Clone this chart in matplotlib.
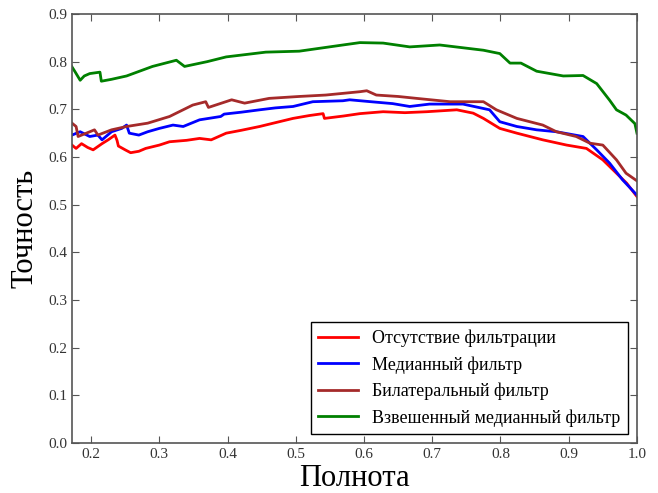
import matplotlib
matplotlib.use("Agg")
import matplotlib.pyplot as plt

plt.rcParams['font.family'] = ['Liberation Serif', 'DejaVu Serif']

x_none = [0.172, 0.178, 0.186, 0.195, 0.203, 0.210, 0.216, 0.225, 0.235, 0.238, 0.240, 0.250, 0.258, 0.270, 0.280, 0.300, 0.315, 0.340, 0.359, 0.376, 0.398, 0.420, 0.447, 0.470, 0.496, 0.520, 0.540, 0.542, 0.570, 0.594, 0.628, 0.660, 0.692, 0.736, 0.760, 0.775, 0.799, 0.824, 0.862, 0.897, 0.926, 0.950, 0.970, 0.985, 1.0]
y_none = [0.625, 0.618, 0.628, 0.620, 0.615, 0.622, 0.628, 0.636, 0.646, 0.635, 0.623, 0.615, 0.609, 0.612, 0.618, 0.625, 0.632, 0.635, 0.639, 0.636, 0.650, 0.656, 0.664, 0.672, 0.681, 0.687, 0.691, 0.681, 0.686, 0.691, 0.695, 0.693, 0.695, 0.699, 0.692, 0.681, 0.660, 0.650, 0.636, 0.625, 0.618, 0.594, 0.566, 0.545, 0.517]

x_med = [0.172, 0.184, 0.198, 0.210, 0.216, 0.230, 0.245, 0.252, 0.256, 0.270, 0.283, 0.300, 0.320, 0.335, 0.359, 0.390, 0.395, 0.420, 0.447, 0.470, 0.496, 0.525, 0.569, 0.579, 0.610, 0.642, 0.667, 0.696, 0.745, 0.784, 0.799, 0.824, 0.853, 0.882, 0.921, 0.941, 0.960, 0.979, 1.0]
y_med = [0.646, 0.653, 0.643, 0.646, 0.636, 0.653, 0.660, 0.667, 0.650, 0.646, 0.653, 0.660, 0.667, 0.664, 0.678, 0.685, 0.690, 0.694, 0.699, 0.703, 0.706, 0.716, 0.718, 0.720, 0.716, 0.712, 0.706, 0.711, 0.711, 0.699, 0.674, 0.664, 0.657, 0.653, 0.643, 0.615, 0.587, 0.552, 0.520]

x_bil = [0.172, 0.178, 0.181, 0.193, 0.205, 0.210, 0.230, 0.252, 0.283, 0.315, 0.349, 0.368, 0.372, 0.406, 0.425, 0.461, 0.505, 0.544, 0.594, 0.604, 0.618, 0.650, 0.677, 0.726, 0.775, 0.794, 0.824, 0.862, 0.882, 0.911, 0.931, 0.950, 0.970, 0.984, 1.0]
y_bil = [0.671, 0.664, 0.643, 0.650, 0.657, 0.646, 0.657, 0.664, 0.671, 0.685, 0.709, 0.716, 0.704, 0.720, 0.713, 0.723, 0.727, 0.730, 0.737, 0.739, 0.730, 0.727, 0.723, 0.716, 0.716, 0.699, 0.681, 0.667, 0.653, 0.643, 0.629, 0.625, 0.594, 0.566, 0.550]

x_wmed = [0.172, 0.176, 0.184, 0.190, 0.198, 0.213, 0.215, 0.230, 0.252, 0.290, 0.325, 0.337, 0.370, 0.398, 0.456, 0.505, 0.569, 0.594, 0.628, 0.667, 0.711, 0.775, 0.799, 0.814, 0.830, 0.853, 0.892, 0.921, 0.941, 0.960, 0.970, 0.984, 0.997, 1.0]
y_wmed = [0.789, 0.780, 0.761, 0.770, 0.775, 0.778, 0.759, 0.763, 0.770, 0.790, 0.803, 0.790, 0.800, 0.810, 0.820, 0.822, 0.835, 0.840, 0.839, 0.831, 0.835, 0.824, 0.817, 0.797, 0.797, 0.780, 0.770, 0.771, 0.754, 0.719, 0.699, 0.688, 0.670, 0.650]

labels = ['Отсутствие фильтрации', 'Медианный фильтр', 'Билатеральный фильтр', 'Взвешенный медианный фильтр']
colors = ['#ff0000', '#0000ff', '#a52a2a', '#008000']

fig = plt.figure(figsize=(6.58, 4.93), dpi=100)
ax = fig.add_axes([0.1094, 0.1014, 0.8586, 0.8702])
for xs, ys, lab, c in zip([x_none, x_med, x_bil, x_wmed], [y_none, y_med, y_bil, y_wmed], labels, colors):
    ax.plot(xs, ys, color=c, lw=2, label=lab)

ax.set_xlim(0.172, 1.0)
ax.set_ylim(0.0, 0.9)
ax.set_xticks([0.2, 0.3, 0.4, 0.5, 0.6, 0.7, 0.8, 0.9, 1.0])
ax.set_yticks([0.0, 0.1, 0.2, 0.3, 0.4, 0.5, 0.6, 0.7, 0.8, 0.9])
ax.tick_params(direction='in', top=True, right=True, labelsize=11, length=5, colors='#555555', labelcolor='#333333')
for s in ax.spines.values():
    s.set_color('#555555')
    s.set_linewidth(1.2)
ax.set_xlabel('Полнота', fontsize=22, labelpad=2)
ax.set_ylabel('Точность', fontsize=22, labelpad=6)
leg = ax.legend(loc='lower right', fontsize=13, fancybox=False, edgecolor='black', framealpha=1, borderaxespad=0.5, handlelength=2.2)
leg.get_frame().set_linewidth(1.0)
fig.savefig('out.png', dpi=100)
